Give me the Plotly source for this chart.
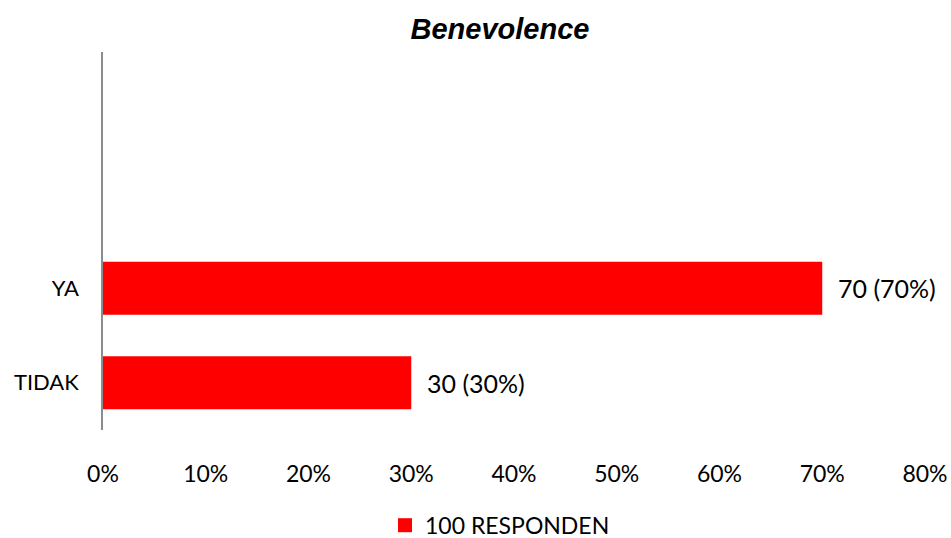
import plotly.graph_objects as go

categories = ["TIDAK", "YA"]
counts = [30, 70]
percents = [30, 70]
series_name = "100 RESPONDEN"
tick_vals = [0, 10, 20, 30, 40, 50, 60, 70, 80]
tick_text = ["0%", "10%", "20%", "30%", "40%", "50%", "60%", "70%", "80%"]

FONT = "Lato"
RED = "#FF0000"

fig = go.Figure()
fig.add_trace(go.Bar(
    y=categories, x=percents, orientation="h", name=series_name,
    marker=dict(color=RED, line=dict(width=0)), width=0.56,
    showlegend=False,
))
# legend entry with a larger square marker
fig.add_trace(go.Scatter(
    x=[None], y=[None], mode="markers", name=series_name,
    marker=dict(symbol="square", size=14, color=RED), showlegend=True,
))

for c, n, p in zip(categories, counts, percents):
    fig.add_annotation(x=p, y=c, text=f"{n} ({p}%)", showarrow=False,
                       xanchor="left", xshift=14, font=dict(family=FONT, size=25, color="#000"))

fig.update_layout(
    width=951, height=538,
    margin=dict(l=103, r=26, t=52, b=108, autoexpand=False),
    plot_bgcolor="white", paper_bgcolor="white",
    title=dict(text="<b><i>Benevolence</i></b>", x=(500 - 103) / 822, xref="paper",
               xanchor="center", y=1 - 29 / 538, yanchor="middle",
               font=dict(family="Liberation Sans", size=29, color="#000")),
    xaxis=dict(range=[0, 80], tickvals=tick_vals, ticktext=tick_text, showgrid=False,
               zeroline=False, showline=False, ticks="", ticklabelstandoff=28, automargin=False,
               tickfont=dict(family=FONT, size=23, color="#000")),
    yaxis=dict(type="category", categoryorder="array", categoryarray=categories,
               range=[-0.5, 3.5], showgrid=False, zeroline=False, showline=True,
               linecolor="#8c8c8c", linewidth=1.5, ticks="", ticklabelstandoff=18, automargin=False,
               tickfont=dict(family=FONT, size=22, color="#000")),
    legend=dict(orientation="h", x=(500 - 103) / 822, xanchor="center", y=-0.252, yanchor="middle",
                font=dict(family=FONT, size=23, color="#000"), itemwidth=30,
                borderwidth=0, tracegroupgap=0),
)

fig.write_html("out.html")
